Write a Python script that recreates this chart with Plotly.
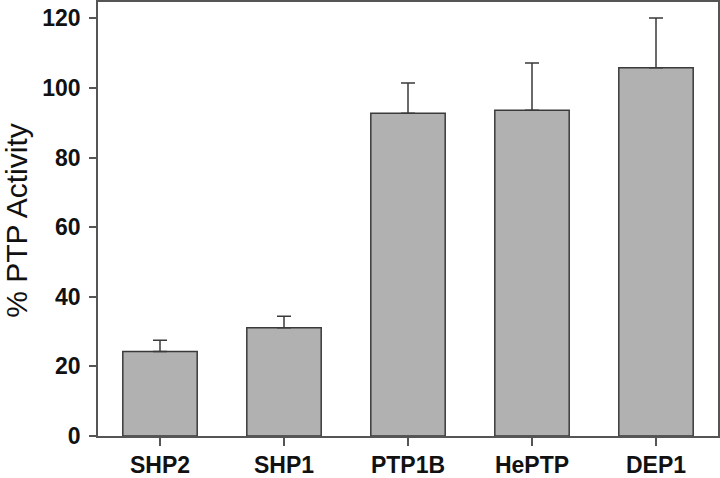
import plotly.graph_objects as go

categories = ["SHP2", "SHP1", "PTP1B", "HePTP", "DEP1"]
activity = [24.3, 31.1, 92.7, 93.6, 105.8]
errors = [3.2, 3.3, 8.7, 13.6, 14.3]
y_ticks = [0, 20, 40, 60, 80, 100, 120]

FONT = "Liberation Sans, Arial, sans-serif"

fig = go.Figure()
fig.add_trace(go.Bar(
    x=categories, y=activity,
    width=0.6,
    marker=dict(color="#b1b1b1", line=dict(color="#3a3a3a", width=1.5)),
    error_y=dict(type="data", array=errors, arrayminus=[0] * len(errors),
                 symmetric=False, color="#3a3a3a", thickness=1.5, width=7),
))

fig.update_layout(
    width=720, height=478,
    margin=dict(l=98, r=2, t=2, b=42),
    plot_bgcolor="white", paper_bgcolor="white",
    showlegend=False,
    font=dict(family=FONT, color="#111"),
)
fig.update_xaxes(
    range=[-0.5, 4.5], showline=True, linecolor="#555", linewidth=1.5,
    mirror=True, ticks="outside", ticklen=8, tickcolor="#555", tickwidth=1.5,
    tickfont=dict(size=23, family=FONT, weight="bold"),
    showgrid=False, automargin=False,
)
fig.update_yaxes(
    range=[0, 124.7], showline=True, linecolor="#555", linewidth=1.5,
    mirror=True, ticks="outside", ticklen=7, tickcolor="#555", tickwidth=1.5,
    tickvals=y_ticks, ticklabelstandoff=4,
    tickfont=dict(size=23, family=FONT, weight="bold"),
    showgrid=False, zeroline=False, automargin=False,
)
fig.add_annotation(
    text="% PTP Activity", xref="paper", yref="paper",
    x=(17 - 98) / 620, y=0.496, xanchor="center", yanchor="middle",
    textangle=-90, showarrow=False,
    font=dict(size=30, family=FONT, color="#111"),
)

fig.write_html(
    "out.html",
    config={"displayModeBar": False},
    post_script="document.body.style.margin='0';document.body.style.overflow='hidden';",
)
